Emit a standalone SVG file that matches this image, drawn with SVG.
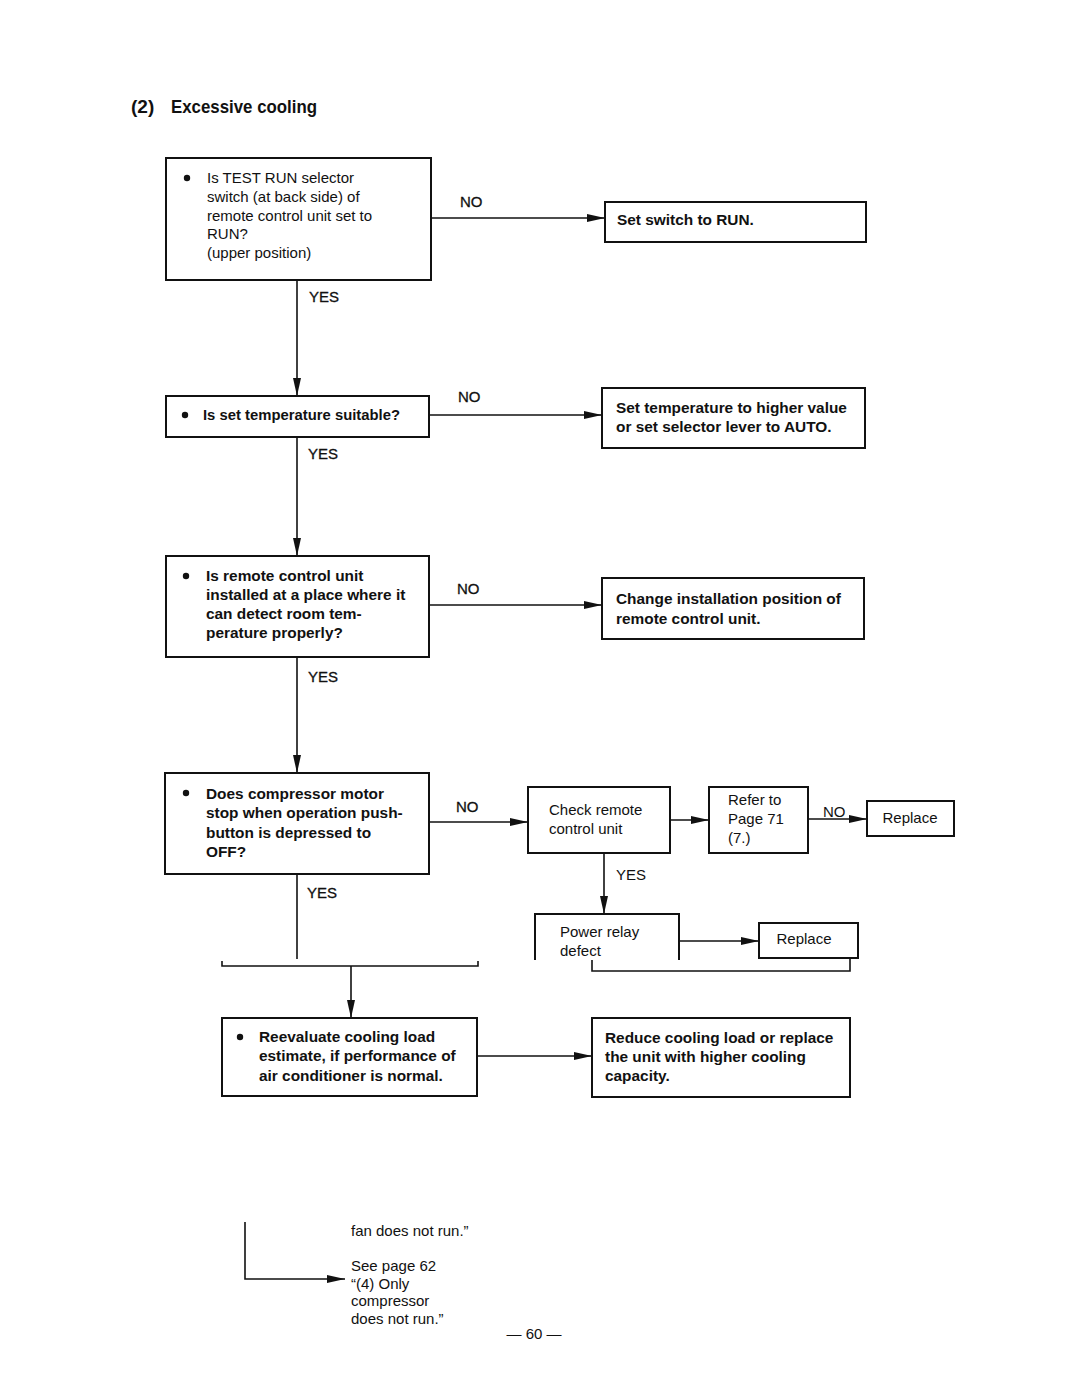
<svg xmlns="http://www.w3.org/2000/svg" width="1080" height="1397" viewBox="0 0 1080 1397">
<defs>
<marker id="ah" viewBox="0 0 18 10" refX="18" refY="5" markerWidth="18" markerHeight="10" markerUnits="userSpaceOnUse" orient="auto">
<path d="M0,1 L18,5 L0,9 Z" fill="#111"/>
</marker>
</defs>
<style>
.box{fill:#fff;stroke:#111;stroke-width:2}
.ln{fill:none;stroke:#111;stroke-width:1.6}
.t{font-family:"Liberation Sans",Arial,sans-serif;font-size:15px;fill:#111}
.b{font-family:"Liberation Sans",Arial,sans-serif;font-size:15.4px;font-weight:bold;fill:#111}
.lb{font-family:"Liberation Sans",Arial,sans-serif;font-size:15px;fill:#111;stroke:#111;stroke-width:0.3}
.title{font-family:"Liberation Sans",Arial,sans-serif;font-size:19px;font-weight:bold;fill:#111}
</style>
<rect width="1080" height="1397" fill="#fff"/>
<text class="title" x="131" y="113">(2)</text>
<text class="title" x="171" y="113" textLength="146" lengthAdjust="spacingAndGlyphs">Excessive cooling</text>

<g id="connectors">
<path class="ln" d="M431,218 H605" marker-end="url(#ah)"/>
<text class="lb" x="460" y="207">NO</text>
<path class="ln" d="M297,280 V396" marker-end="url(#ah)"/>
<text class="lb" x="309" y="302">YES</text>
<path class="ln" d="M429,415 H602" marker-end="url(#ah)"/>
<text class="lb" x="458" y="402">NO</text>
<path class="ln" d="M297,437 V556" marker-end="url(#ah)"/>
<text class="lb" x="308" y="459">YES</text>
<path class="ln" d="M429,605 H602" marker-end="url(#ah)"/>
<text class="lb" x="457" y="594">NO</text>
<path class="ln" d="M297,657 V773" marker-end="url(#ah)"/>
<text class="lb" x="308" y="682">YES</text>
<path class="ln" d="M429,822 H528" marker-end="url(#ah)"/>
<text class="lb" x="456" y="812">NO</text>
<path class="ln" d="M670,820 H709" marker-end="url(#ah)"/>
<path class="ln" d="M808,819 H867" marker-end="url(#ah)"/>
<text class="t" x="823" y="817">NO</text>
<path class="ln" d="M604,853 V914" marker-end="url(#ah)"/>
<text class="t" x="616" y="880">YES</text>
<path class="ln" d="M679,941 H759" marker-end="url(#ah)"/>
<path class="ln" d="M592,960 V971 H850 V958"/>
<path class="ln" d="M297,874 V959"/>
<text class="lb" x="307" y="898">YES</text>
<path class="ln" d="M222,961 V966 H478 V961"/>
<path class="ln" d="M351,966 V1018" marker-end="url(#ah)"/>
<path class="ln" d="M477,1056 H592" marker-end="url(#ah)"/>
<path class="ln" d="M245,1222 V1279 H345" marker-end="url(#ah)"/>
</g>

<g id="n1">
<rect class="box" x="166" y="158" width="265" height="122"/>
<circle cx="187" cy="178" r="3.2" fill="#111"/>
<text class="t" x="207" y="183">Is TEST RUN selector</text>
<text class="t" x="207" y="202">switch (at back side) of</text>
<text class="t" x="207" y="221">remote control unit set to</text>
<text class="t" x="207" y="239">RUN?</text>
<text class="t" x="207" y="258">(upper position)</text>
</g>
<g id="n1no">
<rect class="box" x="605" y="202" width="261" height="40"/>
<text class="b" x="617" y="225">Set switch to RUN.</text>
</g>

<g id="n2">
<rect class="box" x="166" y="396" width="263" height="41"/>
<circle cx="185" cy="415" r="3.2" fill="#111"/>
<text class="b" x="203" y="420" textLength="197" lengthAdjust="spacingAndGlyphs">Is set temperature suitable?</text>
</g>
<g id="n2no">
<rect class="box" x="602" y="388" width="263" height="60"/>
<text class="b" x="616" y="413">Set temperature to higher value</text>
<text class="b" x="616" y="432">or set selector lever to AUTO.</text>
</g>

<g id="n3">
<rect class="box" x="166" y="556" width="263" height="101"/>
<circle cx="186" cy="576" r="3.2" fill="#111"/>
<text class="b" x="206" y="581">Is remote control unit</text>
<text class="b" x="206" y="600">installed at a place where it</text>
<text class="b" x="206" y="619">can detect room tem-</text>
<text class="b" x="206" y="638">perature properly?</text>
</g>
<g id="n3no">
<rect class="box" x="602" y="578" width="262" height="61"/>
<text class="b" x="616" y="604">Change installation position of</text>
<text class="b" x="616" y="624">remote control unit.</text>
</g>

<g id="n4">
<rect class="box" x="165" y="773" width="264" height="101"/>
<circle cx="186" cy="793" r="3.2" fill="#111"/>
<text class="b" x="206" y="799">Does compressor motor</text>
<text class="b" x="206" y="818">stop when operation push-</text>
<text class="b" x="206" y="838">button is depressed to</text>
<text class="b" x="206" y="857">OFF?</text>
</g>
<g id="check">
<rect class="box" x="528" y="787" width="142" height="66"/>
<text class="t" x="549" y="815">Check remote</text>
<text class="t" x="549" y="834">control unit</text>
</g>
<g id="refer">
<rect class="box" x="709" y="787" width="99" height="66"/>
<text class="t" x="728" y="805">Refer to</text>
<text class="t" x="728" y="824">Page 71</text>
<text class="t" x="728" y="843">(7.)</text>
</g>
<g id="replace1">
<rect class="box" x="867" y="801" width="87" height="35"/>
<text class="t" x="910" y="823" text-anchor="middle">Replace</text>
</g>
<g id="relay">
<path class="box" d="M535,960 V914 H679 V960" style="fill:none"/>
<text class="t" x="560" y="937">Power relay</text>
<text class="t" x="560" y="956">defect</text>
</g>
<g id="replace2">
<rect class="box" x="759" y="923" width="99" height="35"/>
<text class="t" x="804" y="944" text-anchor="middle">Replace</text>
</g>

<g id="n5">
<rect class="box" x="222" y="1018" width="255" height="78"/>
<circle cx="240" cy="1037" r="3.2" fill="#111"/>
<text class="b" x="259" y="1042">Reevaluate cooling load</text>
<text class="b" x="259" y="1061">estimate, if performance of</text>
<text class="b" x="259" y="1081">air conditioner is normal.</text>
</g>
<g id="n5r">
<rect class="box" x="592" y="1018" width="258" height="79"/>
<text class="b" x="605" y="1043">Reduce cooling load or replace</text>
<text class="b" x="605" y="1062">the unit with higher cooling</text>
<text class="b" x="605" y="1081">capacity.</text>
</g>

<g id="footnote">
<text class="t" x="351" y="1236">fan does not run.”</text>
<text class="t" x="351" y="1271">See page 62</text>
<text class="t" x="351" y="1289">“(4) Only</text>
<text class="t" x="351" y="1306">compressor</text>
<text class="t" x="351" y="1324">does not run.”</text>
<text class="t" x="534" y="1339" text-anchor="middle">— 60 —</text>
</g>
</svg>
